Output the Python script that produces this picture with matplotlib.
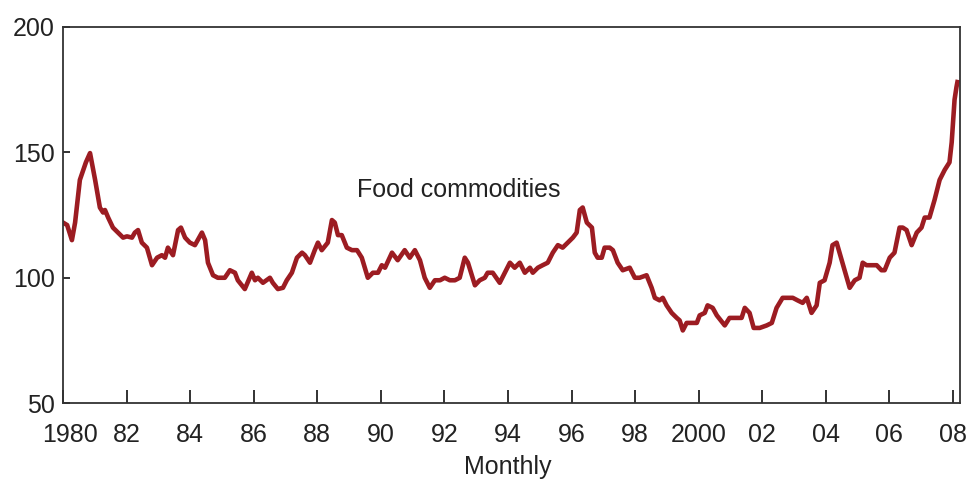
import matplotlib
matplotlib.use("Agg")
import matplotlib.pyplot as plt
import matplotlib.transforms as mtransforms

plt.rcParams['font.family'] = ['Liberation Sans', 'DejaVu Sans']

# decimal years (monthly-ish readings) and index values
years = [1980.00, 1980.13, 1980.28, 1980.38, 1980.53, 1980.72, 1980.85, 1981.01, 1981.16, 1981.26,
         1981.32, 1981.42, 1981.57, 1981.73, 1981.89, 1982.01, 1982.17, 1982.26, 1982.36, 1982.48,
         1982.64, 1982.80, 1982.96, 1983.11, 1983.21, 1983.30, 1983.46, 1983.62, 1983.71, 1983.84,
         1983.99, 1984.15, 1984.37, 1984.47, 1984.56, 1984.72, 1984.87, 1985.09, 1985.25, 1985.41,
         1985.50, 1985.72, 1985.94, 1986.04, 1986.13, 1986.29, 1986.51, 1986.60, 1986.76, 1986.92,
         1987.04, 1987.20, 1987.36, 1987.52, 1987.61, 1987.77, 1987.92, 1988.02, 1988.14, 1988.33,
         1988.46, 1988.55, 1988.65, 1988.77, 1988.93, 1989.09, 1989.25, 1989.40, 1989.59, 1989.75,
         1989.91, 1990.03, 1990.13, 1990.35, 1990.53, 1990.75, 1990.91, 1991.07, 1991.23, 1991.38,
         1991.54, 1991.70, 1991.86, 1992.01, 1992.17, 1992.33, 1992.48, 1992.64, 1992.74, 1992.96,
         1993.11, 1993.27, 1993.36, 1993.52, 1993.74, 1993.90, 1994.06, 1994.21, 1994.37, 1994.53,
         1994.69, 1994.78, 1994.94, 1995.09, 1995.25, 1995.41, 1995.57, 1995.72, 1995.88, 1996.04,
         1996.16, 1996.26, 1996.35, 1996.48, 1996.64, 1996.73, 1996.82, 1996.95, 1997.04, 1997.20,
         1997.30, 1997.45, 1997.61, 1997.83, 1997.99, 1998.14, 1998.36, 1998.52, 1998.62, 1998.77,
         1998.87, 1998.99, 1999.15, 1999.31, 1999.40, 1999.50, 1999.62, 1999.78, 1999.94, 2000.03,
         2000.19, 2000.28, 2000.44, 2000.57, 2000.82, 2000.97, 2001.19, 2001.35, 2001.45, 2001.60,
         2001.73, 2001.92, 2002.14, 2002.30, 2002.45, 2002.64, 2002.77, 2002.96, 2003.11, 2003.27,
         2003.40, 2003.55, 2003.71, 2003.81, 2003.96, 2004.12, 2004.21, 2004.34, 2004.43, 2004.59,
         2004.75, 2004.91, 2005.06, 2005.16, 2005.28, 2005.44, 2005.60, 2005.75, 2005.85, 2006.01,
         2006.16, 2006.32, 2006.42, 2006.54, 2006.70, 2006.86, 2007.01, 2007.11, 2007.26, 2007.42,
         2007.58, 2007.74, 2007.89, 2007.96, 2008.05, 2008.11, 2008.14]

food = [122, 121, 115, 122, 139, 146, 149.7, 139, 128, 126,
        127, 124, 120, 118, 116, 116.5, 116, 118, 119, 114,
        112, 105, 108, 109, 108, 112, 109, 119, 120, 116,
        114, 113, 118, 115, 106, 101, 100, 100, 103, 102,
        99, 95.5, 102, 99, 100, 98, 100, 98, 95.5, 96,
        99, 102, 108, 110, 109, 106, 111, 114, 111, 114,
        123, 122, 117, 117, 112, 111, 111, 108, 100, 102,
        102, 105, 104, 110, 107, 111, 108, 111, 107, 100,
        96, 99, 99, 100, 99, 99, 100, 108, 106, 97,
        99, 100, 102, 102, 98, 102, 106, 104, 106, 102,
        104, 102, 104, 105, 106, 110, 113, 112, 114, 116,
        118, 127, 128, 122, 120, 110, 108, 108, 112, 112,
        111, 106, 103, 104, 100, 100, 101, 96, 92, 91,
        92, 89, 86, 84, 83, 79, 82, 82, 82, 85,
        86, 89, 88, 85, 81, 84, 84, 84, 88, 86,
        80, 80, 81, 82, 88, 92, 92, 92, 91, 90,
        92, 86, 89, 98, 99, 106, 113, 114, 110, 103,
        96, 99, 100, 106, 105, 105, 105, 103, 103, 108,
        110, 120, 120, 119, 113, 118, 120, 124, 124, 131,
        139, 143, 146, 154, 171, 176, 178]

xtick_pos = [1980, 1982, 1984, 1986, 1988, 1990, 1992, 1994, 1996, 1998, 2000, 2002, 2004, 2006, 2008]
xtick_labels = ["1980", "82", "84", "86", "88", "90", "92", "94", "96", "98", "2000", "02", "04", "06", "08"]
ytick_pos = [50, 100, 150, 200]
series_label = "Food commodities"
xlabel = "Monthly"

fig = plt.figure(figsize=(9.68, 4.8), dpi=100)
ax = fig.add_axes([0.0651, 0.160, 0.9266, 0.784])

ax.plot(years, food, color="#9c1c22", linewidth=3.3, solid_joinstyle="round")

ax.set_xlim(1980, 2008.22)
ax.set_ylim(50, 200)
ax.set_xticks(xtick_pos)
ax.set_xticklabels(xtick_labels)
ax.set_yticks(ytick_pos)

ax.tick_params(axis="x", direction="in", length=9.5, width=1.3, pad=14,
               labelsize=18, colors="#222222")
ax.tick_params(axis="y", direction="in", length=5, width=1.3, pad=6,
               labelsize=18, colors="#222222")
for s in ax.spines.values():
    s.set_linewidth(1.3)
    s.set_color("#333333")

# nudge the first x label slightly right as in the reference
first = ax.get_xticklabels()[0]
first.set_transform(first.get_transform() +
                    mtransforms.ScaledTranslation(7 / 100, 0, fig.dpi_scale_trans))

ax.text(1992.45, 135, series_label, fontsize=18, color="#222222",
        ha="center", va="center")
fig.text(508 / 968, 1 - 467 / 480, xlabel, fontsize=18, color="#222222",
         ha="center", va="center")

fig.savefig("out.png", dpi=100)
